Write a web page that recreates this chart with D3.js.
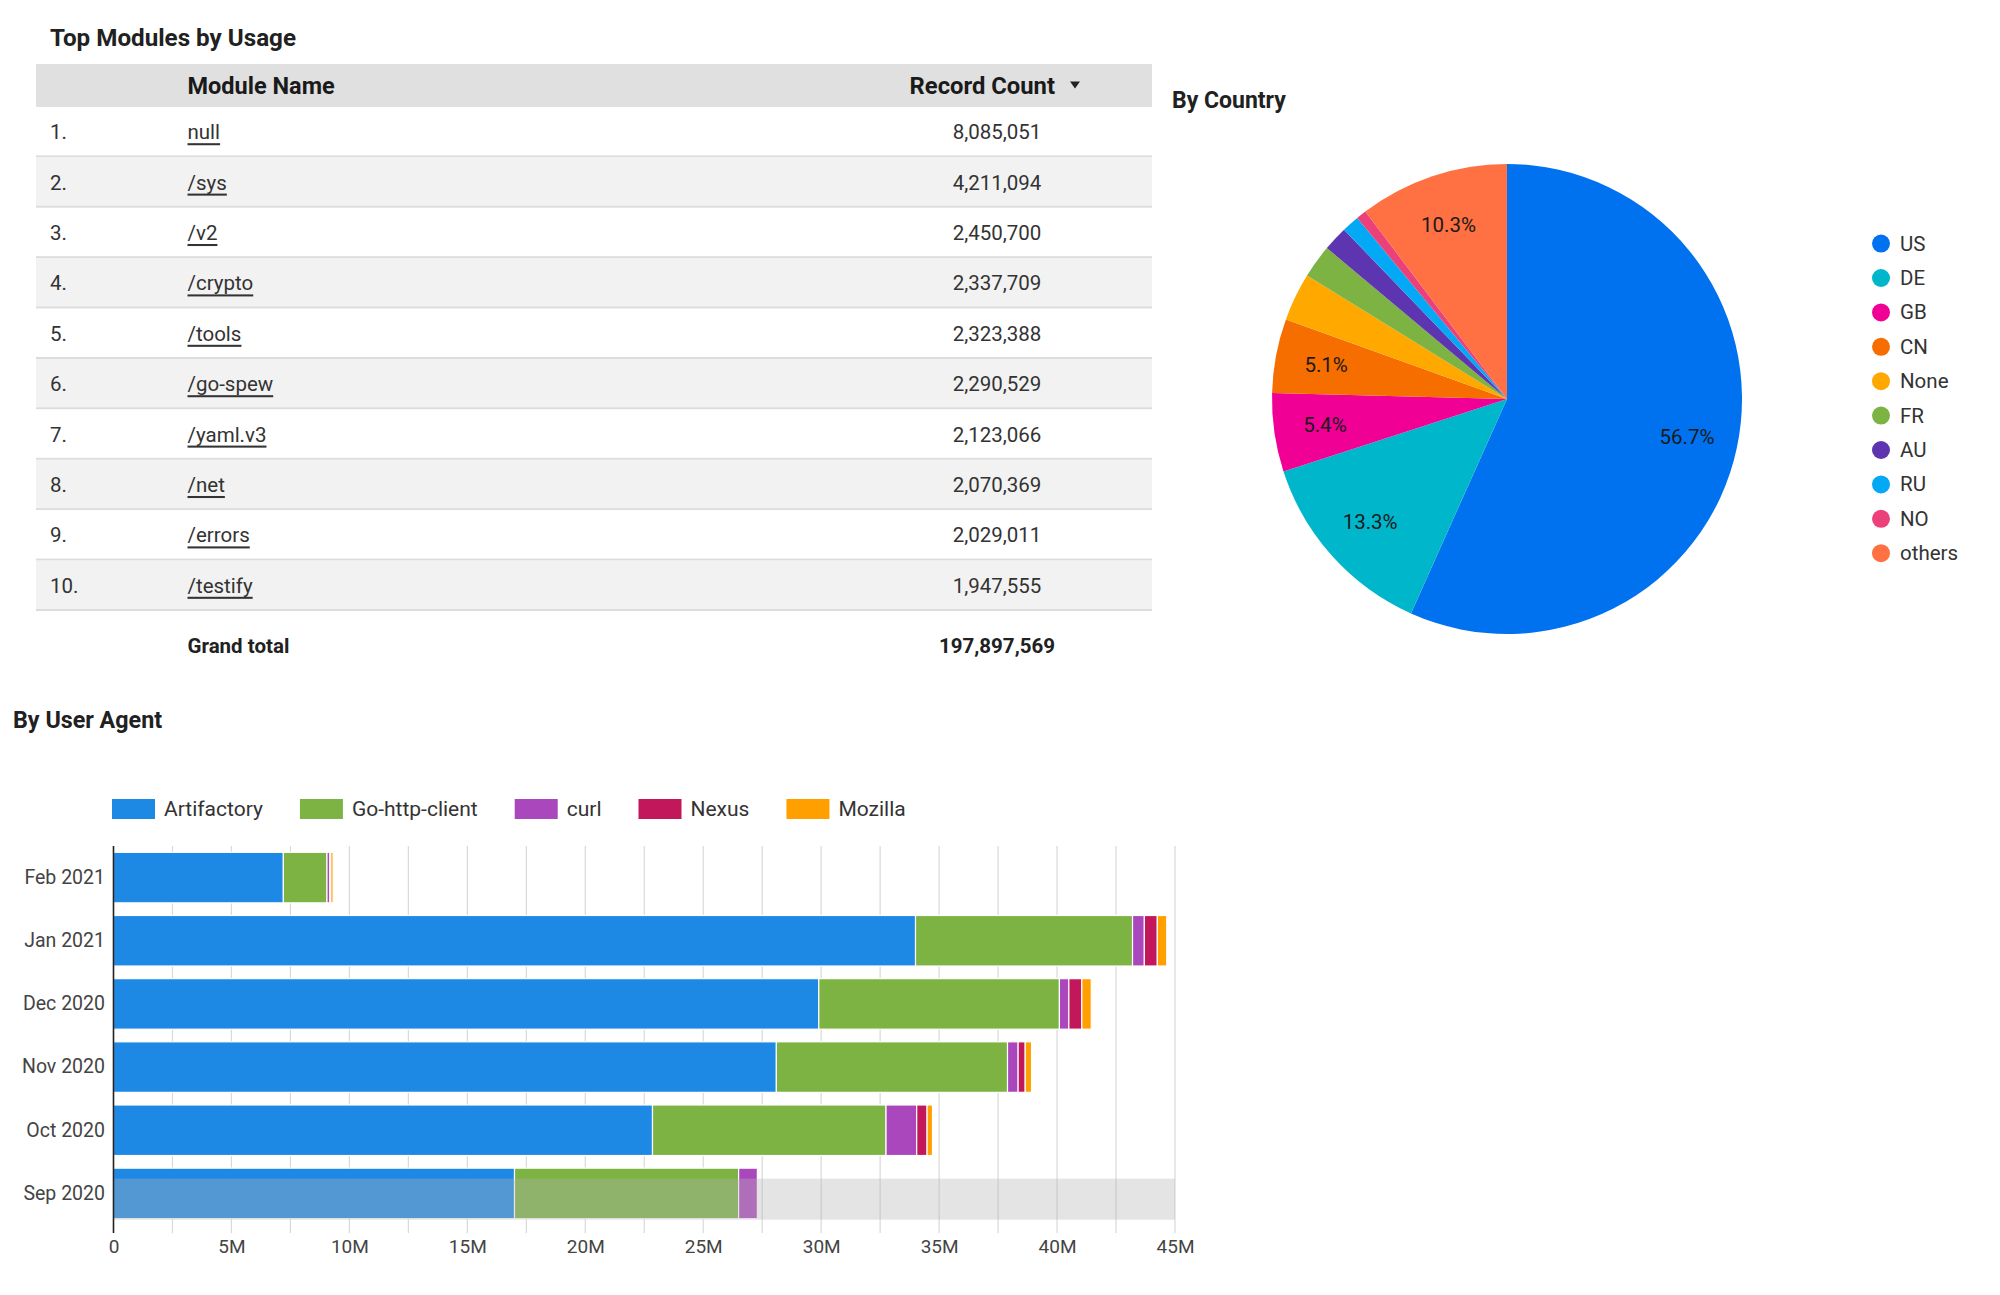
<!DOCTYPE html>
<html><head><meta charset="utf-8">
<script src="https://cdn.jsdelivr.net/npm/d3@7"></script>
<style>
body{margin:0;background:#fff}
text{font-family:Roboto,"Noto Sans",sans-serif}
</style>
</head><body>
<svg id="c" width="2000" height="1295"></svg>
<script>
// ---------- DATA ----------
const moduleNames = ["null","/sys","/v2","/crypto","/tools","/go-spew","/yaml.v3","/net","/errors","/testify"];
const recordCounts = [8085051,4211094,2450700,2337709,2323388,2290529,2123066,2070369,2029011,1947555];
const grandTotal = 197897569;

const countries = ["US","DE","GB","CN","None","FR","AU","RU","NO","others"];
const countryShares = [56.7,13.3,5.4,5.1,3.3,2.3,1.7,1.2,0.7,10.3];

const months = ["Feb 2021","Jan 2021","Dec 2020","Nov 2020","Oct 2020","Sep 2020"];
const agents = ["Artifactory","Go-http-client","curl","Nexus","Mozilla"];
// values in millions of records
const artifactory  = [7.2, 34.0, 29.9, 28.1, 22.85, 17.0];
const goHttpClient = [1.85, 9.2, 10.2, 9.8, 9.9, 9.5];
const curl         = [0.12, 0.5, 0.4, 0.45, 1.3, 0.8];
const nexus        = [0.04, 0.55, 0.55, 0.3, 0.44, 0.05];
const mozilla      = [0.1, 0.4, 0.4, 0.27, 0.23, 0.05];
const xTickValues  = [0,5,10,15,20,25,30,35,40,45];
const xTickLabels  = ["0","5M","10M","15M","20M","25M","30M","35M","40M","45M"];
const highlightedMonth = "Sep 2020";

// ---------- STYLE ----------
const countryColors = ["#0072f0","#00b6cb","#f10096","#f66d00","#ffa800","#7cb342","#5e35b1","#03a9f4","#ec407a","#ff7043"];
const agentColors = ["#1e88e5","#7cb342","#ab47bc","#c2185b","#ffa000"];

const svg = d3.select("#c");
svg.append("rect").attr("width",2000).attr("height",1295).attr("fill","#fff");

// ---------- TABLE ----------
const fmt = d3.format(",");
const tbl = svg.append("g");
const tLeft = 36, tRight = 1152, headTop = 64, headH = 43, rowH = 50.4;
tbl.append("text").attr("x",50).attr("y",38).attr("dominant-baseline","central")
  .attr("font-size",24.2).attr("font-weight",700).attr("fill","#212121").text("Top Modules by Usage");
tbl.append("rect").attr("x",tLeft).attr("y",headTop).attr("width",tRight-tLeft).attr("height",headH).attr("fill","#e0e0e0");
tbl.append("text").attr("x",187.5).attr("y",headTop+headH/2).attr("dominant-baseline","central")
  .attr("font-size",23.5).attr("font-weight",700).attr("fill","#1a1a1a").text("Module Name");
tbl.append("text").attr("x",1055).attr("y",headTop+headH/2).attr("dominant-baseline","central").attr("text-anchor","end")
  .attr("font-size",23.8).attr("font-weight",700).attr("fill","#1a1a1a").text("Record Count");
tbl.append("path").attr("d",`M1070,${headTop+headH/2-4} l10,0 l-5,7 z`).attr("fill","#222");

const rows = tbl.selectAll("g.row").data(moduleNames).join("g").attr("class","row")
  .attr("transform",(d,i)=>`translate(0,${headTop+headH+i*rowH})`);
rows.append("rect").attr("x",tLeft).attr("width",tRight-tLeft).attr("height",rowH)
  .attr("fill",(d,i)=> i%2 ? "#f2f2f2" : "#fff");
rows.append("rect").attr("x",tLeft).attr("y",rowH-2).attr("width",tRight-tLeft).attr("height",2).attr("fill","#dcdcdc");
rows.append("text").attr("x",50).attr("y",rowH/2).attr("dominant-baseline","central")
  .attr("font-size",20.5).attr("fill","#333").text((d,i)=>(i+1)+".");
rows.append("text").attr("x",187.5).attr("y",rowH/2).attr("dominant-baseline","central")
  .attr("font-size",20.5).attr("fill","#333").attr("text-decoration","underline").text(d=>d);
rows.append("text").attr("x",997).attr("y",rowH/2).attr("dominant-baseline","central").attr("text-anchor","middle")
  .attr("font-size",20.5).attr("fill","#333").text((d,i)=>fmt(recordCounts[i]));
const totY = headTop+headH+moduleNames.length*rowH + 35;
tbl.append("text").attr("x",187.5).attr("y",totY).attr("dominant-baseline","central")
  .attr("font-size",20.5).attr("font-weight",700).attr("fill","#212121").text("Grand total");
tbl.append("text").attr("x",997).attr("y",totY).attr("dominant-baseline","central").attr("text-anchor","middle")
  .attr("font-size",20.5).attr("font-weight",700).attr("fill","#212121").text(fmt(grandTotal));

// ---------- PIE ----------
const pg = svg.append("g");
pg.append("text").attr("x",1172).attr("y",100).attr("dominant-baseline","central")
  .attr("font-size",23).attr("font-weight",700).attr("fill","#212121").text("By Country");
const cx = 1507, cy = 399, R = 235;
const pie = d3.pie().sort(null).value(d=>d);
const arcs = pie(countryShares);
const arc = d3.arc().innerRadius(0).outerRadius(R);
const labelArc = d3.arc().innerRadius(184).outerRadius(184);
const pc = pg.append("g").attr("transform",`translate(${cx},${cy})`);
pc.selectAll("path").data(arcs).join("path").attr("d",arc).attr("fill",(d,i)=>countryColors[i]);
pc.selectAll("text").data(arcs.filter(a=>a.data>=5)).join("text")
  .attr("transform",d=>`translate(${labelArc.centroid(d)})`)
  .attr("text-anchor","middle").attr("dominant-baseline","central")
  .attr("font-size",20.5).attr("fill","#1a1a1a").text(d=>d.data.toFixed(1)+"%");
const lg = pg.selectAll("g.leg").data(countries).join("g").attr("class","leg")
  .attr("transform",(d,i)=>`translate(1881,${243.6+i*34.4})`);
lg.append("circle").attr("r",9).attr("fill",(d,i)=>countryColors[i]);
lg.append("text").attr("x",19).attr("dominant-baseline","central").attr("font-size",20.5).attr("fill","#333").text(d=>d);

// ---------- STACKED BARS ----------
const bg = svg.append("g");
bg.append("text").attr("x",13).attr("y",720).attr("dominant-baseline","central")
  .attr("font-size",23.3).attr("font-weight",700).attr("fill","#212121").text("By User Agent");

const series = [artifactory, goHttpClient, curl, nexus, mozilla];
const table = months.map((m,i)=>{const o={month:m}; agents.forEach((a,j)=>o[a]=series[j][i]); return o;});
const stacked = d3.stack().keys(agents)(table);

const x = d3.scaleLinear().domain([0,45]).range([113.5,1175]);
const y = d3.scaleBand().domain(months).range([846,1225]).paddingInner(0.2).paddingOuter(0.1);
const plotTop = 846, plotBot = 1225;

// grid lines every 2.5M
const gridVals = d3.range(2.5, 45.01, 2.5);
bg.append("g").selectAll("line").data(gridVals).join("line")
  .attr("x1",d=>x(d)).attr("x2",d=>x(d)).attr("y1",plotTop).attr("y2",plotBot+8)
  .attr("stroke","#d9d9d9").attr("stroke-width",1.2);

// legend
const legG = bg.append("g").attr("transform","translate(112,809)");
let lx = 0;
agents.forEach((a,i)=>{
  const g = legG.append("g").attr("transform",`translate(${lx},0)`);
  g.append("rect").attr("y",-10).attr("width",43).attr("height",20).attr("fill",agentColors[i]);
  const t = g.append("text").attr("x",52).attr("dominant-baseline","central").attr("font-size",21).attr("fill","#333").text(a);
  lx += 52 + t.node().getComputedTextLength() + 37;
});

// bars
bg.append("g").selectAll("g").data(stacked).join("g").attr("fill",(d,i)=>agentColors[i])
  .selectAll("rect").data(d=>d).join("rect")
  .attr("x",d=>x(d[0])).attr("width",d=>Math.max(0,x(d[1])-x(d[0])))
  .attr("y",d=>y(d.data.month)).attr("height",y.bandwidth())
  .attr("stroke","#fff").attr("stroke-width",1.2);

// hover highlight on one row
bg.append("rect").attr("x",x(0)).attr("width",x(45)-x(0))
  .attr("y",y(highlightedMonth)+10.5).attr("height",y.bandwidth()-9.5)
  .attr("fill","#b4b4b4").attr("opacity",0.36);

// x axis
const xAxis = d3.axisBottom(x).tickValues(xTickValues).tickFormat((d,i)=>xTickLabels[i]).tickSize(0).tickPadding(15);
const xa = bg.append("g").attr("transform",`translate(0,${plotBot})`).call(xAxis);
xa.select(".domain").remove();
xa.selectAll("text").attr("font-size",19).attr("fill","#444").attr("font-family","Roboto");

// y axis
const yAxis = d3.axisLeft(y).tickSize(0).tickPadding(8);
const ya = bg.append("g").attr("transform",`translate(${x(0)-0.5},0)`).call(yAxis);
ya.select(".domain").remove();
ya.selectAll("text").attr("font-size",19.5).attr("fill","#444").attr("font-family","Roboto");
bg.append("line").attr("x1",x(0)).attr("x2",x(0)).attr("y1",plotTop).attr("y2",plotBot+8)
  .attr("stroke","#222").attr("stroke-width",1.6);
</script>
</body></html>
